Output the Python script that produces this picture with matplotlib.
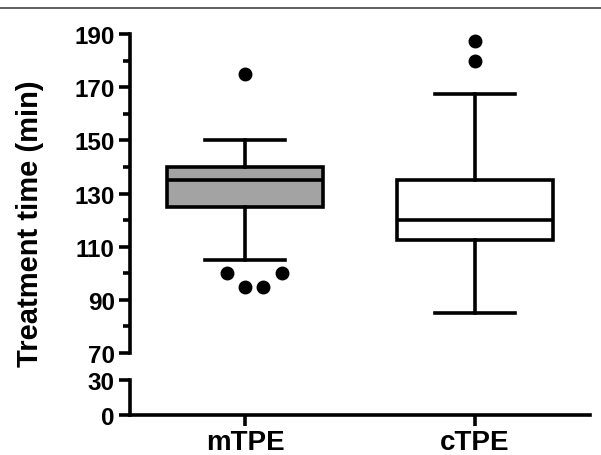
import matplotlib.pyplot as plt
from matplotlib.lines import Line2D

plt.rcParams['font.family'] = ['Liberation Sans', 'DejaVu Sans']
plt.rcParams['font.weight'] = 'bold'

# box statistics (minutes)
groups = ["mTPE", "cTPE"]
whisker_low = [105, 85]
q1 = [125, 112.5]
median = [135, 120]
q3 = [140, 135]
whisker_high = [150, 167.5]
fills = ["#a3a3a3", "white"]

# outliers per group
outliers_mtpe = [175, 100, 95, 95, 100]
outliers_ctpe = [187.5, 180]
# horizontal spread of the dots, as drawn in the figure
offsets_mtpe = [0, -0.078, 0, 0.078, 0.16]
offsets_ctpe = [0, 0]

lw = 2.6
fig = plt.figure(figsize=(6.01, 4.56), dpi=100)
ax = fig.add_axes([130/601, 102/456, 460/601, 319/456])
ax2 = fig.add_axes([130/601, 40/456, 460/601, 35/456])

stats = []
for i, g in enumerate(groups):
    stats.append(dict(label=g, whislo=whisker_low[i], q1=q1[i], med=median[i],
                      q3=q3[i], whishi=whisker_high[i], fliers=[]))

bp = ax.bxp(stats, positions=[1, 2], widths=0.68, patch_artist=True,
            showfliers=False,
            boxprops=dict(linewidth=lw, edgecolor="black"),
            medianprops=dict(linewidth=lw, color="black"),
            whiskerprops=dict(linewidth=lw, color="black"),
            capprops=dict(linewidth=lw, color="black"), capwidths=0.35)
for patch, c in zip(bp["boxes"], fills):
    patch.set_facecolor(c)

ax.plot([1 + o for o in offsets_mtpe], outliers_mtpe, "o", color="black",
        markersize=9, clip_on=False)
ax.plot([2 + o for o in offsets_ctpe], outliers_ctpe, "o", color="black",
        markersize=9, clip_on=False)

ax.set_xlim(0.5, 2.5)
ax.set_ylim(70, 190)
ax.set_yticks([70, 90, 110, 130, 150, 170, 190])
ax.set_yticks([80, 100, 120, 140, 160, 180], minor=True)
ax.set_xticks([])
for s in ["top", "right", "bottom"]:
    ax.spines[s].set_visible(False)
ax.spines["left"].set_linewidth(lw)
ax.tick_params(axis="y", which="major", length=8, width=lw, labelsize=17.5, pad=3)
ax.tick_params(axis="y", which="minor", length=5, width=lw)

ax2.set_xlim(0.5, 2.5)
ax2.set_ylim(0, 30)
ax2.set_yticks([0, 30])
ax2.set_xticks([1, 2])
ax2.set_xticklabels(groups)
for s in ["top", "right"]:
    ax2.spines[s].set_visible(False)
ax2.spines["left"].set_linewidth(lw)
ax2.spines["bottom"].set_linewidth(lw)
ax2.tick_params(axis="y", length=8, width=lw, labelsize=17.5, pad=3)
ax2.tick_params(axis="x", length=8, width=lw, labelsize=20, pad=2)
for t in ax.get_yticklabels() + ax2.get_yticklabels() + ax2.get_xticklabels():
    t.set_fontweight("bold")

fig.text(0.05, 1 - 224/456, "Treatment time (min)", rotation=90, ha="center",
         va="center", fontsize=21, fontweight="bold")

# thin frame line at the top of the image
fig.add_artist(Line2D([0, 1], [1 - 9/456, 1 - 9/456], color="#444444",
                      linewidth=1.2, transform=fig.transFigure))

fig.savefig("out.png", dpi=100)
